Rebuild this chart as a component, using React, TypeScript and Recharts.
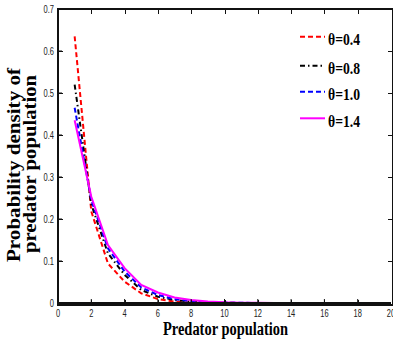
import React from 'react';
import { LineChart, Line, XAxis, YAxis, Legend, Label } from 'recharts';

const xValues = [1, 2, 3, 4, 5, 6, 7, 8, 9, 10, 11, 12, 13, 14, 15, 16, 17, 18, 19, 20];
const theta04 = [0.635, 0.218, 0.094, 0.051, 0.023, 0.0095, 0.003, 0.001, 0.0004, 0.0001, 0, 0, 0, 0, 0, 0, 0, 0, 0, 0];
const theta08 = [0.52, 0.235, 0.118, 0.067, 0.031, 0.015, 0.007, 0.003, 0.0012, 0.0005, 0.0002, 0.0001, 0, 0, 0, 0, 0, 0, 0, 0];
const theta10 = [0.465, 0.245, 0.13, 0.075, 0.037, 0.019, 0.009, 0.0045, 0.002, 0.001, 0.0004, 0.0002, 0.0001, 0, 0, 0, 0, 0, 0, 0];
const theta14 = [0.435, 0.253, 0.138, 0.083, 0.043, 0.025, 0.013, 0.007, 0.0035, 0.0017, 0.0008, 0.0004, 0.0002, 0.0001, 0, 0, 0, 0, 0, 0];

const xTicks = [0, 2, 4, 6, 8, 10, 12, 14, 16, 18, 20];
const yTicks = [0, 0.1, 0.2, 0.3, 0.4, 0.5, 0.6, 0.7];
const xDomain: [number, number] = [0, 20];
const yDomain: [number, number] = [0, 0.7];

const seriesNames = ['θ=0.4', 'θ=0.8', 'θ=1.0', 'θ=1.4'];

const data = xValues.map((x, i) => ({
  x,
  a: theta04[i],
  b: theta08[i],
  c: theta10[i],
  d: theta14[i],
}));

const series = [
  { key: 'a', name: seriesNames[0], color: '#ff0000', dash: '5 3' },
  { key: 'b', name: seriesNames[1], color: '#000000', dash: '5 3 1.5 3' },
  { key: 'c', name: seriesNames[2], color: '#0000ff', dash: '5 3' },
  { key: 'd', name: seriesNames[3], color: '#ff00ff', dash: undefined as string | undefined },
];

const tickFont = { fontFamily: '"Liberation Sans", Arial, sans-serif', fontSize: 10, fill: '#222222' };
const serif = '"Liberation Serif", "Times New Roman", serif';
const INK = '#111111';
const TEXT_INK = '#000000';

const CHART_W = 393;
const CHART_H = 343;
const MARGIN = { top: 9, right: 2, bottom: 0, left: 0 };
const Y_AXIS_W = 58;
const X_AXIS_H = 40;
const PLOT = {
  left: MARGIN.left + Y_AXIS_W,
  right: CHART_W - MARGIN.right,
  top: MARGIN.top,
  bottom: CHART_H - MARGIN.bottom - X_AXIS_H,
};

const BottomTick = (props: any) => {
  const { x, y, payload } = props;
  const v = payload.value;
  return (
    <g>
      {v !== xDomain[0] && v !== xDomain[1] && (
        <path d={`M${x},${y}V${y - 4}`} stroke={INK} strokeWidth={1} fill="none" />
      )}
      <text transform={`translate(${x},${y + 13.7}) scale(0.75,1)`} textAnchor="middle" {...tickFont}>
        {String(v)}
      </text>
    </g>
  );
};

const LeftTick = (props: any) => {
  const { x, y, payload } = props;
  const v = payload.value;
  const label = v === 0 ? '0' : v.toFixed(1);
  return (
    <g>
      {v !== yDomain[0] && v !== yDomain[1] && (
        <path d={`M${x},${y}H${x + 4}`} stroke={INK} strokeWidth={1} fill="none" />
      )}
      <text transform={`translate(${x - 4},${y + 3.6}) scale(0.75,1)`} textAnchor="end" {...tickFont}>
        {label}
      </text>
    </g>
  );
};

const XTitle = (props: any) => {
  const vb = props.viewBox || { x: PLOT.left, width: PLOT.right - PLOT.left };
  const cx = vb.x + vb.width / 2 + 1;
  return (
    <text
      x={cx}
      y={335}
      textAnchor="middle"
      fontFamily={serif}
      fontWeight="bold"
      fontSize={18}
      fill={TEXT_INK}
      textLength={125}
      lengthAdjust="spacingAndGlyphs"
    >
      Predator population
    </text>
  );
};

const YTitle = () => (
  <g>
    <text
      transform="translate(20,165) rotate(-90)"
      textAnchor="middle"
      fontFamily={serif}
      fontWeight="bold"
      fontSize={18}
      fill={TEXT_INK}
      textLength={194}
      lengthAdjust="spacingAndGlyphs"
    >
      Probability density of
    </text>
    <text
      transform="translate(35.5,164) rotate(-90)"
      textAnchor="middle"
      fontFamily={serif}
      fontWeight="bold"
      fontSize={18}
      fill={TEXT_INK}
      textLength={178}
      lengthAdjust="spacingAndGlyphs"
    >
      predator population
    </text>
  </g>
);

const legendRows = [36.7, 65.7, 91.7, 118.3];

// legend overlay: legend entries, plus an HTML box frame and inward tick marks
const renderLegend = () => {
  const w = PLOT.right - PLOT.left;
  const h = PLOT.bottom - PLOT.top;
  const sx = (v: number) => ((v - xDomain[0]) / (xDomain[1] - xDomain[0])) * w;
  const sy = (v: number) => h - ((v - yDomain[0]) / (yDomain[1] - yDomain[0])) * h;
  const innerX = xTicks.filter((v) => v !== xDomain[0] && v !== xDomain[1]);
  const innerY = yTicks.filter((v) => v !== yDomain[0] && v !== yDomain[1]);
  const mark = (style: React.CSSProperties, key: string) => (
    <div key={key} style={{ position: 'absolute', background: INK, ...style }} />
  );
  return (
    <div style={{ position: 'relative', width: CHART_W, height: CHART_H, pointerEvents: 'none' }}>
      <div
        style={{
          position: 'absolute',
          left: PLOT.left - 1,
          top: PLOT.top - 1,
          width: w,
          height: h,
          border: `2px solid ${INK}`,
          boxSizing: 'content-box',
        }}
      >
        {innerX.map((v) => mark({ left: sx(v) - 1, top: 0, width: 1, height: 4 }, `t${v}`))}
        {innerX.map((v) => mark({ left: sx(v) - 1, top: h - 4, width: 1, height: 4 }, `b${v}`))}
        {innerY.map((v) => mark({ left: 0, top: sy(v) - 1, width: 4, height: 1 }, `l${v}`))}
        {innerY.map((v) => mark({ left: w - 4, top: sy(v) - 1, width: 4, height: 1 }, `r${v}`))}
      </div>
      <svg width={CHART_W} height={CHART_H} style={{ position: 'absolute', left: 0, top: 0, display: 'block' }}>
        {series.map((s, i) => (
          <g key={s.key}>
            <line
              x1={300}
              x2={325}
              y1={legendRows[i]}
              y2={legendRows[i]}
              stroke={s.color}
              strokeWidth={2}
              strokeDasharray={s.dash}
            />
            <text
              x={328}
              y={legendRows[i] + 8.3}
              fontFamily={serif}
              fontWeight="bold"
              fontSize={17}
              fill={TEXT_INK}
              textLength={32}
              lengthAdjust="spacingAndGlyphs"
            >
              {s.name}
            </text>
          </g>
        ))}
      </svg>
    </div>
  );
};

export default function App() {
  return (
    <div style={{ position: 'absolute', left: 0, top: 0, width: CHART_W, height: CHART_H, background: '#ffffff' }}>
      <LineChart width={CHART_W} height={CHART_H} data={data} margin={MARGIN}>
        <XAxis
          dataKey="x"
          type="number"
          domain={xDomain}
          ticks={xTicks}
          interval={0}
          height={X_AXIS_H}
          tickSize={0}
          tickMargin={0}
          tickLine={false}
          tick={<BottomTick />}
          axisLine={{ stroke: INK, strokeWidth: 2 }}
          label={<Label content={<XTitle />} />}
        />
        <YAxis
          type="number"
          domain={yDomain}
          ticks={yTicks}
          interval={0}
          width={Y_AXIS_W}
          tickSize={0}
          tickMargin={0}
          tickLine={false}
          tick={<LeftTick />}
          axisLine={{ stroke: INK, strokeWidth: 2 }}
          label={<Label content={<YTitle />} />}
        />
        {series.map((s) => (
          <Line
            key={s.key}
            type="linear"
            dataKey={s.key}
            name={s.name}
            stroke={s.color}
            strokeWidth={2}
            strokeDasharray={s.dash}
            dot={false}
            activeDot={false}
            isAnimationActive={false}
          />
        ))}
        <Legend
          layout="vertical"
          align="center"
          verticalAlign="middle"
          content={renderLegend}
          wrapperStyle={{ left: 0, top: 0, width: CHART_W, height: CHART_H, pointerEvents: 'none' }}
        />
      </LineChart>
    </div>
  );
}
